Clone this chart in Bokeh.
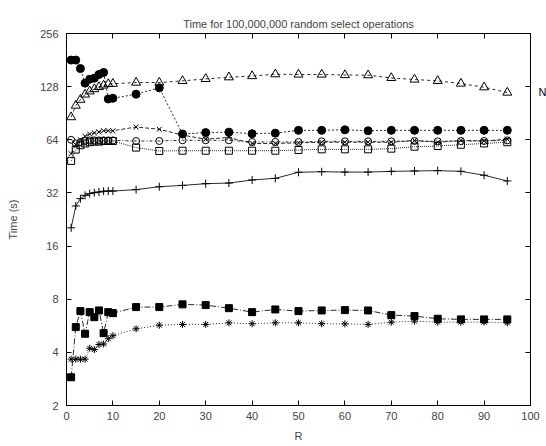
from bokeh.plotting import figure
from bokeh.embed import file_html
from bokeh.resources import INLINE
from bokeh.models import (FixedTicker, PrintfTickFormatter, LogAxis, LinearAxis,
                          Label, ColumnDataSource)

R = [1, 2, 3, 4, 5, 6, 7, 8, 9, 10, 15, 20, 25, 30, 35, 40, 45, 50, 55, 60,
     65, 70, 75, 80, 85, 90, 95]

plus_s = [20.3, 27, 29.7, 31, 31.7, 32.1, 32.4, 32.7, 32.8, 32.8, 33.4, 34.7, 35.3,
          36.1, 36.4, 37.9, 38.7, 41.9, 42.2, 42.0, 42.0, 42.4, 42.6, 42.8, 42.4, 40.3, 37.4]
x_s = [53.4, 60, 64, 67, 69, 70, 71, 72, 72, 72, 75.6, 73.4, 68, 64.5, 66, 61, 61,
       61.5, 62, 62, 62, 62, 63.5, 62, 63.5, 63, 64.5]
star_s = [3.66, 3.66, 3.66, 3.66, 4.22, 4.15, 4.43, 4.46, 4.78, 4.97, 5.44, 5.7, 5.76,
          5.76, 5.88, 5.81, 5.88, 5.88, 5.81, 5.8, 5.76, 5.93, 6.01, 5.93, 5.93, 5.93, 5.88]
osq_s = [48.6, 56.3, 59.6, 61, 62, 62.5, 62.5, 63, 63, 63, 57.8, 55.3, 55.5, 55.5,
         55.5, 55.5, 55.5, 56, 56.5, 56.5, 56.5, 57, 58.5, 59, 60, 61, 62]
fsq_s = [2.89, 5.56, 6.85, 5.1, 6.76, 6.33, 6.91, 5.14, 6.76, 6.67, 7.22, 7.22, 7.48,
         7.41, 7.12, 6.76, 7.0, 6.85, 6.91, 6.94, 6.91, 6.5, 6.42, 6.2, 6.15, 6.15, 6.15]
ocirc_s = [64, 61, 62, 63, 63.5, 63.5, 63.5, 63.5, 63.5, 63.5, 63, 63, 63.6, 63.6, 63.6,
           62.2, 62.2, 62.2, 62.7, 62.7, 62.7, 62.7, 63, 62.7, 63, 63, 63.5]
fcirc_s = [181, 181, 162, 134, 141, 143, 150, 154, 109, 110, 116, 126, 69, 70.3, 70.7,
           69.3, 69.8, 72.4, 72.4, 72.9, 72, 72.4, 72.4, 72.4, 72.4, 72.4, 72.4]
tri_s = [86, 100, 108, 115.6, 120.5, 124, 127.5, 130, 132.5, 133, 135, 135, 138, 141.6,
         144.7, 147, 150.5, 150, 150, 149, 148.6, 143.4, 140.5, 138, 133.3, 127, 118.5]

y_ticks = [2, 4, 8, 16, 32, 64, 128, 256]
x_ticks = [0, 10, 20, 30, 40, 50, 60, 70, 80, 90, 100]

FONT = "Liberation Sans"

p = figure(width=546, height=446, y_axis_type="log", x_range=(0, 100), y_range=(2, 256),
           output_backend="svg", toolbar_location=None,
           title="Time for 100,000,000 random select operations",
           min_border_left=66, min_border_right=16, min_border_top=33, min_border_bottom=41)
p.title.align = "center"
p.title.text_font = FONT
p.title.text_font_size = "11px"
p.title.text_font_style = "normal"
p.title.standoff = 8

p.xgrid.grid_line_color = None
p.ygrid.grid_line_color = None
p.outline_line_color = "black"
p.background_fill_color = "white"
p.border_fill_color = "white"

for ax in (p.xaxis[0], p.yaxis[0]):
    ax.major_tick_in = 5
    ax.major_tick_out = 0
    ax.minor_tick_line_color = None
    ax.major_label_text_font = FONT
    ax.major_label_text_font_size = "11px"
    ax.axis_label_text_font = FONT
    ax.axis_label_text_font_size = "11px"
    ax.axis_label_text_font_style = "normal"
    ax.axis_line_color = "black"

p.xaxis[0].ticker = FixedTicker(ticks=x_ticks)
p.yaxis[0].ticker = FixedTicker(ticks=y_ticks)
p.yaxis[0].formatter = PrintfTickFormatter(format="%d")
p.xaxis[0].axis_label = "R"
p.yaxis[0].axis_label = "Time (s)"
p.xaxis[0].major_label_standoff = 6
p.xaxis[0].axis_label_standoff = 7
p.yaxis[0].major_label_standoff = 8
p.yaxis[0].axis_label_standoff = 18

# mirrored inward ticks on the right and top, without labels
ra = LogAxis(ticker=FixedTicker(ticks=y_ticks), major_tick_in=5, major_tick_out=0,
             minor_tick_line_color=None, major_label_text_font_size="1px",
             major_label_standoff=0,
             major_label_overrides={t: "" for t in y_ticks})
ta = LinearAxis(ticker=FixedTicker(ticks=x_ticks), major_tick_in=5, major_tick_out=0,
                minor_tick_line_color=None, major_label_text_font_size="1px",
                major_label_standoff=0,
                major_label_overrides={t: "" for t in x_ticks})
p.add_layout(ra, "right")
p.add_layout(ta, "above")

LC = "#2a2a2a"
series = [
    (plus_s, "cross", "solid", None, 8),
    (x_s, "x", "4 2", None, 7),
    (star_s, "asterisk", "1 2", None, 7),
    (osq_s, "square", "1 1", None, 7),
    (fsq_s, "square", "6 2 1 2", "black", 7),
    (ocirc_s, "circle", "3 2 1 2", None, 7),
    (fcirc_s, "circle", "2 2", "black", 8),
    (tri_s, "triangle", "3 3", None, 9),
]
for ys, mk, dash, fill, sz in series:
    src = ColumnDataSource(dict(x=R, y=ys))
    p.line("x", "y", source=src, line_color=LC, line_width=1, line_dash=dash)
    if fill is None:
        p.scatter("x", "y", source=src, marker=mk, size=sz, line_color="black",
                  fill_alpha=0, line_width=1)
    else:
        p.scatter("x", "y", source=src, marker=mk, size=sz, line_color="black",
                  fill_color=fill, line_width=1)

# label placed in the right side panel so it is not clipped by the frame
p.add_layout(Label(x=101.7, y=119, text="N", text_font=FONT, text_font_size="11px",
                   text_color="black", text_baseline="middle", text_align="left"),
             "right")

open("out.html", "w").write(file_html(p, INLINE))
